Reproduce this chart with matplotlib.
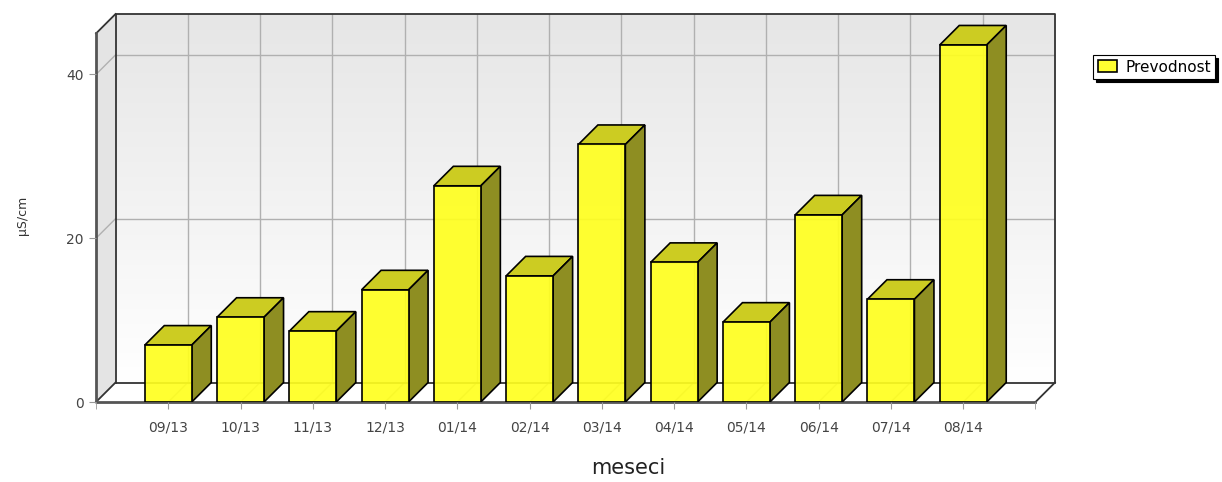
import matplotlib
matplotlib.use('Agg')
import matplotlib.pyplot as plt
import numpy as np
from matplotlib.patches import Polygon
from matplotlib.colors import LinearSegmentedColormap

# podatki
meseci = ['09/13', '10/13', '11/13', '12/13', '01/14', '02/14',
          '03/14', '04/14', '05/14', '06/14', '07/14', '08/14']
prevodnost = [6.95, 10.35, 8.65, 13.7, 26.4, 15.4, 31.45, 17.05, 9.75, 22.85, 12.55, 43.6]
y_ticks = [0, 20, 40]

# 3D zamik (v enotah podatkov)
dx = 0.27
dy = 2.38
y_top = 45
w = 0.65

fig = plt.figure(figsize=(12.22, 4.82), dpi=100)
ax = fig.add_axes([96 / 1222, 80 / 482, 959 / 1222, 388 / 482])
x = np.arange(len(meseci))
x0, x1 = -1, len(meseci)

# leva stena in zadnja stena z gradientom
ax.add_patch(Polygon([(x0, 0), (x0 + dx, dy), (x0 + dx, y_top + dy), (x0, y_top)],
                     closed=True, fc='#e4e4e4', ec='none', zorder=0))
grad = np.linspace(0, 1, 256).reshape(-1, 1)
cmap = LinearSegmentedColormap.from_list('ozadje', ['#ffffff', '#e6e6e6'])
ax.imshow(grad, cmap=cmap, extent=(x0 + dx, x1 + dx, dy, y_top + dy),
          origin='lower', aspect='auto', zorder=0)

# mreža
gc = '#b0b0b0'
for xi in x:
    ax.plot([xi + dx, xi + dx], [dy, y_top + dy], color=gc, lw=1, zorder=1)
    ax.plot([xi, xi + dx], [0, dy], color=gc, lw=1, zorder=1)
for yt in y_ticks[1:]:
    ax.plot([x0 + dx, x1 + dx], [yt + dy, yt + dy], color=gc, lw=1, zorder=1)
    ax.plot([x0, x0 + dx], [yt, yt + dy], color=gc, lw=1, zorder=1)

# okvir
oc = '#333333'
ax.plot([x0 + dx, x0 + dx, x1 + dx, x1 + dx], [dy, y_top + dy, y_top + dy, dy],
        color=oc, lw=1.3, zorder=1.5, clip_on=False)
ax.plot([x0 + dx, x1 + dx], [dy, dy], color=oc, lw=1.3, zorder=1.5)
ax.plot([x0, x0 + dx], [y_top, y_top + dy], color=oc, lw=1.3, zorder=1.5, clip_on=False)
ax.plot([x0, x0 + dx], [0, dy], color=oc, lw=1.3, zorder=1.5, clip_on=False)
ax.plot([x1, x1 + dx], [0, dy], color=oc, lw=1.3, zorder=1.5, clip_on=False)
ax.plot([x0, x0, x1], [y_top, 0, 0], color='#555555', lw=2, zorder=1.5, clip_on=False)

# stolpci
bars = ax.bar(x, prevodnost, width=w, color=(1, 1, 0.12, 0.92), edgecolor='black',
              lw=1.2, zorder=3, label='Prevodnost')
for xi, v in zip(x, prevodnost):
    l, r = xi - w / 2, xi + w / 2
    ax.add_patch(Polygon([(l, v), (r, v), (r + dx, v + dy), (l + dx, v + dy)],
                         closed=True, fc='#cccc22', ec='black', lw=1.2, zorder=2))
    ax.add_patch(Polygon([(r, 0), (r + dx, dy), (r + dx, v + dy), (r, v)],
                         closed=True, fc='#8e8e22', ec='black', lw=1.2, zorder=2))

ax.set_xlim(x0, x1 + dx)
ax.set_ylim(0, y_top + dy)
for s in ax.spines.values():
    s.set_visible(False)
ax.set_xticks(x, meseci)
ax.set_xticks([x0, x1], minor=True)
ax.set_yticks(y_ticks)
ax.tick_params(which='both', direction='out', length=5, color='#999999',
               labelsize=10, labelcolor='#444444')
ax.tick_params(axis='x', pad=8)
ax.tick_params(axis='y', pad=4)

fig.text(22 / 1222, 1 - 215 / 482, 'µS/cm', rotation=90, fontsize=9,
         color='#333333', ha='center', va='center')
fig.text(628 / 1222, 1 - 468 / 482, 'meseci', fontsize=15, color='#222222',
         ha='center', va='center')

leg = fig.legend(handles=[bars], loc='upper left', bbox_to_anchor=(1093 / 1222, 1 - 55 / 482),
                 frameon=True, fancybox=False, edgecolor='black', framealpha=1,
                 shadow={'color': 'black', 'alpha': 1}, fontsize=11,
                 handlelength=1.3, handleheight=0.8, handletextpad=0.5,
                 borderaxespad=0, borderpad=0.3)
leg.get_frame().set_linewidth(0.8)

fig.savefig('out.png', dpi=100)
